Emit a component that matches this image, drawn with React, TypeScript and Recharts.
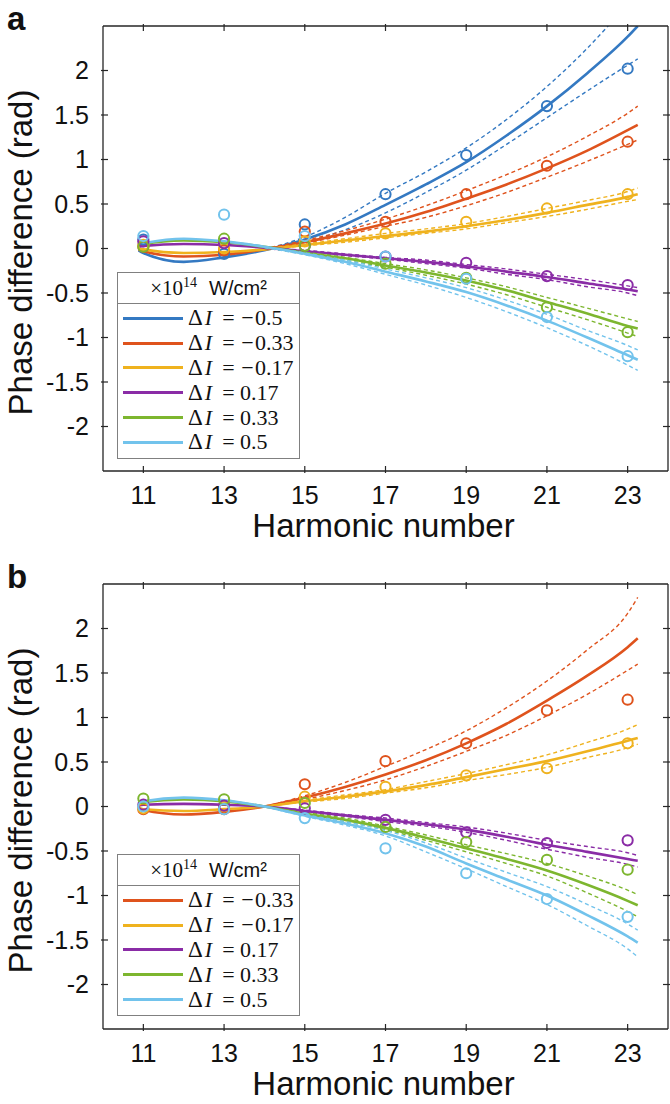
import React from 'react';
import { ComposedChart, Line, Scatter, XAxis, YAxis, Legend, Label } from 'recharts';

// harmonic orders where the phase was measured
const harmonics = [11, 13, 15, 17, 19, 21, 23];
const fitGrid = [10.88, 11, 12, 13, 14, 15, 16, 17, 18, 19, 20, 21, 22, 23, 23.25];
// the confidence band only opens up after the crossing point
const bandGrid = [14, 15, 16, 17, 18, 19, 20, 21, 22, 23, 23.25];
const yTicks = [-2, -1.5, -1, -0.5, 0, 0.5, 1, 1.5, 2];

// ---------- panel a ----------
const keysA = ['m50', 'm33', 'm17', 'p17', 'p33', 'p50'];
const labelsA = ['−0.5', '−0.33', '−0.17', '0.17', '0.33', '0.5'];

const aM50Meas = [0.1, -0.06, 0.27, 0.61, 1.05, 1.6, 2.02];
const aM50Fit = [-0.02, -0.05, -0.15, -0.1, -0.02, 0.1, 0.27, 0.49, 0.72, 0.97, 1.27, 1.6, 1.97, 2.38, 2.5];
const aM50Hi = [-0.01, 0.13, 0.35, 0.62, 0.86, 1.13, 1.45, 1.82, 2.25, 2.75, 2.88];
const aM50Lo = [-0.02, 0.07, 0.21, 0.4, 0.63, 0.88, 1.17, 1.47, 1.77, 2.06, 2.13];

const aM33Meas = [0.02, -0.02, 0.19, 0.3, 0.61, 0.93, 1.2];
const aM33Fit = [-0.01, -0.03, -0.09, -0.07, -0.01, 0.07, 0.17, 0.28, 0.41, 0.56, 0.72, 0.9, 1.1, 1.33, 1.39];
const aM33Hi = [0.0, 0.09, 0.2, 0.33, 0.48, 0.65, 0.83, 1.03, 1.26, 1.52, 1.6];
const aM33Lo = [-0.01, 0.06, 0.15, 0.25, 0.35, 0.48, 0.63, 0.8, 0.98, 1.17, 1.22];

const aM17Meas = [0.04, 0.0, 0.08, 0.17, 0.3, 0.45, 0.61];
const aM17Fit = [0.0, -0.01, -0.05, -0.04, -0.01, 0.04, 0.09, 0.14, 0.19, 0.25, 0.32, 0.4, 0.49, 0.58, 0.61];
const aM17Hi = [0.0, 0.05, 0.11, 0.17, 0.22, 0.28, 0.36, 0.45, 0.54, 0.64, 0.68];
const aM17Lo = [-0.01, 0.03, 0.07, 0.12, 0.17, 0.22, 0.29, 0.36, 0.44, 0.53, 0.55];

const aP17Meas = [0.08, 0.06, 0.03, -0.09, -0.16, -0.31, -0.41];
const aP17Fit = [0.02, 0.03, 0.05, 0.04, 0.01, -0.03, -0.07, -0.11, -0.15, -0.2, -0.26, -0.32, -0.39, -0.46, -0.48];
const aP17Hi = [0.01, -0.02, -0.06, -0.1, -0.13, -0.18, -0.23, -0.29, -0.35, -0.42, -0.44];
const aP17Lo = [0.0, -0.04, -0.08, -0.12, -0.17, -0.22, -0.29, -0.35, -0.43, -0.5, -0.53];

const aP33Meas = [0.02, 0.11, 0.03, -0.17, -0.33, -0.66, -0.94];
const aP33Fit = [0.04, 0.05, 0.09, 0.07, 0.02, -0.05, -0.11, -0.19, -0.27, -0.36, -0.47, -0.6, -0.73, -0.87, -0.9];
const aP33Hi = [0.02, -0.04, -0.1, -0.17, -0.24, -0.33, -0.43, -0.55, -0.67, -0.79, -0.82];
const aP33Lo = [0.01, -0.06, -0.13, -0.21, -0.3, -0.4, -0.52, -0.66, -0.8, -0.95, -0.99];

const aP50Meas = [0.14, 0.38, 0.14, -0.09, -0.34, -0.77, -1.21];
const aP50Fit = [0.05, 0.06, 0.11, 0.08, 0.02, -0.06, -0.15, -0.26, -0.37, -0.49, -0.64, -0.81, -1.0, -1.2, -1.25];
const aP50Hi = [0.02, -0.05, -0.13, -0.23, -0.33, -0.44, -0.58, -0.74, -0.92, -1.09, -1.14];
const aP50Lo = [0.01, -0.07, -0.17, -0.29, -0.41, -0.55, -0.71, -0.89, -1.09, -1.31, -1.37];

// ---------- panel b ----------
const keysB = ['m33', 'm17', 'p17', 'p33', 'p50'];
const labelsB = ['−0.33', '−0.17', '0.17', '0.33', '0.5'];

const bM33Meas = [-0.03, -0.03, 0.25, 0.51, 0.71, 1.08, 1.2];
const bM33Fit = [-0.02, -0.04, -0.09, -0.06, 0.0, 0.1, 0.22, 0.36, 0.52, 0.71, 0.93, 1.19, 1.47, 1.79, 1.89];
const bM33Hi = [0.0, 0.12, 0.27, 0.45, 0.64, 0.85, 1.11, 1.41, 1.76, 2.17, 2.35];
const bM33Lo = [0.0, 0.08, 0.18, 0.3, 0.45, 0.62, 0.8, 1.02, 1.26, 1.53, 1.6];

const bM17Meas = [-0.02, 0.0, 0.11, 0.22, 0.35, 0.43, 0.71];
const bM17Fit = [-0.01, -0.03, -0.05, -0.03, 0.0, 0.06, 0.11, 0.17, 0.24, 0.33, 0.42, 0.51, 0.62, 0.74, 0.77];
const bM17Hi = [0.0, 0.07, 0.13, 0.19, 0.28, 0.37, 0.47, 0.58, 0.72, 0.87, 0.92];
const bM17Lo = [0.0, 0.05, 0.09, 0.15, 0.21, 0.29, 0.36, 0.44, 0.55, 0.66, 0.7];

const bP17Meas = [0.02, 0.01, -0.02, -0.15, -0.29, -0.41, -0.38];
const bP17Fit = [0.01, 0.02, 0.03, 0.02, 0.0, -0.05, -0.1, -0.15, -0.2, -0.26, -0.34, -0.43, -0.51, -0.59, -0.61];
const bP17Hi = [0.0, -0.04, -0.09, -0.13, -0.18, -0.23, -0.3, -0.38, -0.45, -0.52, -0.55];
const bP17Lo = [0.0, -0.06, -0.11, -0.17, -0.22, -0.29, -0.38, -0.48, -0.57, -0.65, -0.68];

const bP33Meas = [0.09, 0.08, 0.04, -0.23, -0.4, -0.6, -0.71];
const bP33Fit = [0.03, 0.05, 0.08, 0.06, 0.0, -0.08, -0.15, -0.24, -0.35, -0.47, -0.59, -0.72, -0.88, -1.06, -1.11];
const bP33Hi = [0.0, -0.07, -0.13, -0.22, -0.32, -0.43, -0.53, -0.64, -0.78, -0.94, -0.99];
const bP33Lo = [0.0, -0.09, -0.17, -0.26, -0.38, -0.51, -0.64, -0.78, -0.97, -1.18, -1.24];

const bP50Meas = [0.0, -0.03, -0.13, -0.47, -0.75, -1.04, -1.24];
const bP50Fit = [0.04, 0.06, 0.1, 0.07, 0.0, -0.1, -0.19, -0.3, -0.45, -0.64, -0.82, -1.0, -1.22, -1.46, -1.53];
const bP50Hi = [0.0, -0.09, -0.17, -0.27, -0.41, -0.58, -0.74, -0.9, -1.1, -1.32, -1.39];
const bP50Lo = [0.0, -0.11, -0.21, -0.33, -0.51, -0.7, -0.9, -1.1, -1.34, -1.6, -1.69];

const colors: Record<string, string> = {
  m50: '#3479c2',
  m33: '#df531d',
  m17: '#efb21e',
  p17: '#8a2ca6',
  p33: '#7db62f',
  p50: '#72c3ec',
};

const axisColor = '#262626';
const sans = '"Liberation Sans", Arial, sans-serif';
const serif = '"Liberation Serif", "Times New Roman", serif';

const LeftTick = (p: any) => (
  <g>
    <line x1={p.x} x2={p.x + 7} y1={p.y} y2={p.y} stroke={axisColor} strokeWidth={1.2} />
    <text x={p.x - 12} y={p.y + 8.5} textAnchor="end" fontSize={25} fontFamily={sans} fill="#111">
      {p.payload.value}
    </text>
  </g>
);
const RightTick = (p: any) => (
  <line x1={p.x} x2={p.x - 7} y1={p.y} y2={p.y} stroke={axisColor} strokeWidth={1.2} />
);
const BottomTick = (p: any) => (
  <g>
    <line x1={p.x} x2={p.x} y1={p.y} y2={p.y - 7} stroke={axisColor} strokeWidth={1.2} />
    <text x={p.x} y={p.y + 31} textAnchor="middle" fontSize={25} fontFamily={sans} fill="#111">
      {p.payload.value}
    </text>
  </g>
);
const TopTick = (p: any) => (
  <line x1={p.x} x2={p.x} y1={p.y} y2={p.y + 7} stroke={axisColor} strokeWidth={1.2} />
);

const YTitle = (p: any) => {
  const vb = p.viewBox;
  const cx = vb.x + 32;
  const cy = vb.y + vb.height / 2 + 4;
  return (
    <text x={cx} y={cy} transform={`rotate(-90 ${cx} ${cy})`} textAnchor="middle" fontSize={33} fontFamily={sans} fill="#111">
      Phase difference (rad)
    </text>
  );
};
const XTitle = (p: any) => {
  const vb = p.viewBox;
  return (
    <text x={vb.x + vb.width / 2 - 2} y={vb.y + 66} textAnchor="middle" fontSize={33} fontFamily={sans} fill="#111">
      Harmonic number
    </text>
  );
};

const glyph = (w: number, extra?: React.CSSProperties): React.CSSProperties => ({
  display: 'inline-block', width: w, textAlign: 'center', ...extra,
});

// "ΔI = value" typeset roughly like the LaTeX legend entries
const DeltaLabel = ({ value }: { value: string }) => {
  const neg = value.startsWith('−');
  return (
    <span style={{ fontFamily: serif, fontSize: 22, whiteSpace: 'nowrap' }}>
      <span style={glyph(17, { fontSize: 23 })}>Δ</span>
      <span style={glyph(9, { fontStyle: 'italic' })}>I</span>
      <span style={glyph(15, { marginLeft: 8, marginRight: 4 })}>=</span>
      {neg && <span style={glyph(15)}>−</span>}
      {neg ? value.slice(1) : value}
    </span>
  );
};

const LegendBox = ({ keys, labels }: { keys: string[]; labels: string[] }) => (
  <div style={{ width: 183, border: '1px solid #808080', background: '#fff', boxSizing: 'border-box', color: '#111' }}>
    <div style={{ height: 30, borderBottom: '1px solid #808080', display: 'flex', alignItems: 'center', justifyContent: 'center' }}>
      <span style={{ fontFamily: serif, fontSize: 21 }}>
        ×10<span style={{ fontSize: 14, position: 'relative', top: -8 }}>14</span>
      </span>
      <span style={{ fontFamily: sans, fontSize: 20, marginLeft: 12 }}>W/cm²</span>
    </div>
    <div style={{ padding: '2px 0 3px 0' }}>
      {keys.map((k, i) => (
        <div key={k} style={{ height: 24.8, display: 'flex', alignItems: 'center' }}>
          <div style={{ width: 60, height: 3, marginLeft: 5, marginRight: 4, background: colors[k] }} />
          <DeltaLabel value={labels[i]} />
        </div>
      ))}
    </div>
  </div>
);

type Series = Record<string, number[]>;

const Panel = ({ keys, labels, meas, fit, hi, lo, legendTop }: {
  keys: string[]; labels: string[]; meas: Series; fit: Series; hi: Series; lo: Series; legendTop: number;
}) => {
  const rows = fitGrid.map((h, i) => {
    const row: Record<string, number | null> = { h };
    const j = bandGrid.indexOf(h);
    keys.forEach((k) => {
      row[k + 'Fit'] = fit[k][i];
      row[k + 'Hi'] = j >= 0 ? hi[k][j] : null;
      row[k + 'Lo'] = j >= 0 ? lo[k][j] : null;
    });
    return row;
  });

  return (
    <ComposedChart width={670} height={552} data={rows} margin={{ top: 25, right: 1, bottom: 0, left: 0 }}>
      <XAxis dataKey="h" type="number" domain={[10, 24]} ticks={harmonics} interval={0} allowDataOverflow
        height={81} tickSize={0} tickLine={false} tick={BottomTick} axisLine={{ stroke: axisColor, strokeWidth: 1.3 }}>
        <Label content={XTitle} />
      </XAxis>
      <XAxis xAxisId="top" orientation="top" dataKey="h" type="number" domain={[10, 24]} ticks={harmonics} interval={0}
        allowDataOverflow height={1} tickSize={0} tickLine={false} tick={TopTick} axisLine={{ stroke: axisColor, strokeWidth: 1.3 }} />
      <YAxis type="number" domain={[-2.5, 2.5]} ticks={yTicks} interval={0} allowDataOverflow width={103}
        tickSize={0} tickLine={false} tick={LeftTick} axisLine={{ stroke: axisColor, strokeWidth: 1.3 }}>
        <Label content={YTitle} />
      </YAxis>
      <YAxis yAxisId="right" orientation="right" type="number" domain={[-2.5, 2.5]} ticks={yTicks} interval={0}
        allowDataOverflow width={1} tickSize={0} tickLine={false} tick={RightTick} axisLine={{ stroke: axisColor, strokeWidth: 1.3 }} />

      {keys.map((k) => [
        <Line key={k + 'hi'} dataKey={k + 'Hi'} type="monotone" stroke={colors[k]} strokeWidth={1.4} strokeDasharray="4 3"
          dot={false} activeDot={false} legendType="none" isAnimationActive={false} />,
        <Line key={k + 'lo'} dataKey={k + 'Lo'} type="monotone" stroke={colors[k]} strokeWidth={1.4} strokeDasharray="4 3"
          dot={false} activeDot={false} legendType="none" isAnimationActive={false} />,
        <Line key={k + 'fit'} dataKey={k + 'Fit'} type="monotone" stroke={colors[k]} strokeWidth={2.6}
          dot={false} activeDot={false} legendType="none" isAnimationActive={false} />,
      ])}
      {/* measured points sit on the top/right axes, which share the same domains */}
      {keys.map((k) => (
        <Scatter key={k + 'pts'} xAxisId="top" yAxisId="right"
          data={harmonics.map((h, i) => ({ h, v: meas[k][i] }))} dataKey="v"
          legendType="none" isAnimationActive={false}
          shape={(p: any) => <circle cx={p.cx} cy={p.cy} r={5.1} fill="none" stroke={colors[k]} strokeWidth={2} />} />
      ))}

      <Legend layout="vertical" align="center" verticalAlign="middle"
        wrapperStyle={{ left: 117, top: legendTop, width: 183 }}
        content={() => <LegendBox keys={keys} labels={labels} />} />
    </ComposedChart>
  );
};

const letterStyle: React.CSSProperties = {
  position: 'absolute', left: 7, fontFamily: sans, fontWeight: 'bold', fontSize: 33, lineHeight: '33px', color: '#111',
};

export default function App() {
  const measA = { m50: aM50Meas, m33: aM33Meas, m17: aM17Meas, p17: aP17Meas, p33: aP33Meas, p50: aP50Meas };
  const fitA = { m50: aM50Fit, m33: aM33Fit, m17: aM17Fit, p17: aP17Fit, p33: aP33Fit, p50: aP50Fit };
  const hiA = { m50: aM50Hi, m33: aM33Hi, m17: aM17Hi, p17: aP17Hi, p33: aP33Hi, p50: aP50Hi };
  const loA = { m50: aM50Lo, m33: aM33Lo, m17: aM17Lo, p17: aP17Lo, p33: aP33Lo, p50: aP50Lo };

  const measB = { m33: bM33Meas, m17: bM17Meas, p17: bP17Meas, p33: bP33Meas, p50: bP50Meas };
  const fitB = { m33: bM33Fit, m17: bM17Fit, p17: bP17Fit, p33: bP33Fit, p50: bP50Fit };
  const hiB = { m33: bM33Hi, m17: bM17Hi, p17: bP17Hi, p33: bP33Hi, p50: bP50Hi };
  const loB = { m33: bM33Lo, m17: bM17Lo, p17: bP17Lo, p33: bP33Lo, p50: bP50Lo };

  return (
    <div style={{ position: 'absolute', left: 0, top: 0, width: 670, height: 1104, background: '#fff', overflow: 'hidden' }}>
      <div style={{ position: 'absolute', left: 0, top: 0 }}>
        <Panel keys={keysA} labels={labelsA} meas={measA} fit={fitA} hi={hiA} lo={loA} legendTop={272} />
      </div>
      <div style={{ ...letterStyle, top: 2 }}>a</div>
      <div style={{ position: 'absolute', left: 0, top: 558 }}>
        <Panel keys={keysB} labels={labelsB} meas={measB} fit={fitB} hi={hiB} lo={loB} legendTop={296} />
      </div>
      <div style={{ ...letterStyle, top: 560 }}>b</div>
    </div>
  );
}
